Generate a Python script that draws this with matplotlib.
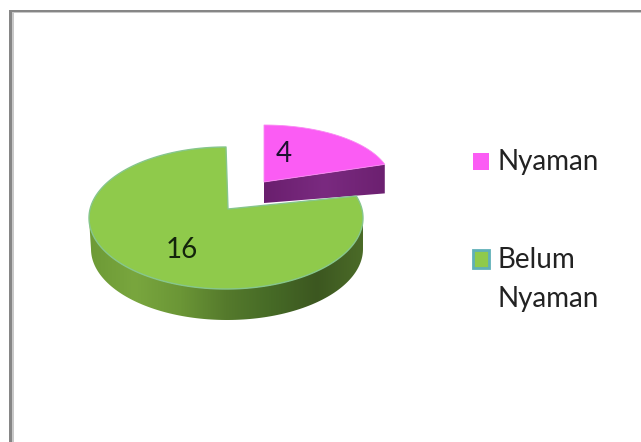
import numpy as np
import matplotlib
matplotlib.use("Agg")
import matplotlib.pyplot as plt
from matplotlib.colors import LinearSegmentedColormap
from matplotlib.patches import Polygon, Rectangle

categories = ["Nyaman", "Belum\nNyaman"]
values = [4, 16]

plt.rcParams['font.family'] = ['Lato', 'DejaVu Sans']
fig = plt.figure(figsize=(6.41, 4.42), dpi=100)
ax = fig.add_axes([0, 0, 1, 1])
ax.set_xlim(0, 641)
ax.set_ylim(442, 0)
ax.axis('off')

TOTAL = sum(values)
START = 18.0
sweep_pink = values[0] / TOTAL * 360
sweep_green = values[1] / TOTAL * 360
a_pink = np.radians(np.linspace(START, START + sweep_pink, 60))
a_green = np.radians(np.linspace(START + sweep_pink, START + sweep_pink + sweep_green, 240))

# geometry of the projected pie
gc, grx, gry = (226, 218), 137, 71
gapex = (228, 209)
gdepth = 31
pc, prx, pry = (264, 182), 127, 57
pd0, pd1 = 21, 29


def rim(angles, c, rx, ry):
    return np.column_stack([c[0] + rx * np.cos(angles), c[1] - ry * np.sin(angles)])


def gradient_fill(verts, stops, zorder):
    cmap = LinearSegmentedColormap.from_list("g", stops)
    xmin, xmax = verts[:, 0].min(), verts[:, 0].max()
    ymin, ymax = verts[:, 1].min(), verts[:, 1].max()
    im = ax.imshow(np.linspace(0, 1, 256)[None, :], cmap=cmap, aspect='auto',
                   extent=(xmin, xmax, ymax, ymin), zorder=zorder)
    clip = Polygon(verts, closed=True, transform=ax.transData, fill=False, edgecolor='none')
    ax.add_patch(clip)
    im.set_clip_path(clip)


# pink cut face
pink_rim = rim(a_pink, pc, prx, pry)
p_end = pink_rim[0]
pink_side = np.array([pc, p_end, p_end + [0, pd1], (pc[0], pc[1] + pd0)], dtype=float)
gradient_fill(pink_side, ["#6a1f6e", "#7a2a80", "#6c2070"], 2)

# pink top
pink_top = np.vstack([[pc], pink_rim])
ax.add_patch(Polygon(pink_top, closed=True, facecolor="#fb5cf4", edgecolor="#f98af2", lw=0.6, zorder=3))

# green outer wall (front half of the rim)
front = np.radians(np.linspace(180, 360, 120))
wall_top = rim(front, gc, grx, gry)
wall_bottom = rim(front[::-1], (gc[0] + 1, gc[1]), grx - 1, gry)
wall_bottom[:, 1] += gdepth
wall = np.vstack([wall_top, wall_bottom])
gradient_fill(wall, ["#6d9a36", "#79a63e", "#6b9636", "#557a2c", "#466a26", "#3c5720", "#4b6b28"], 4)

# green top
green_rim = rim(a_green, gc, grx, gry)
green_top = np.vstack([[gapex], green_rim])
ax.add_patch(Polygon(green_top, closed=True, facecolor="#8fca4b", edgecolor="#86c68c", lw=1.0,
                     joinstyle='round', zorder=5))

# data labels
ax.text(284, 154, str(values[0]), fontsize=20, color="#1d1030", ha='center', va='center', zorder=6)
ax.text(182, 250, str(values[1]), fontsize=20, color="#14240c", ha='center', va='center', zorder=6)

# legend
ax.add_patch(Rectangle((473, 153), 16, 17, facecolor="#fb5cf4", edgecolor="none", zorder=6))
ax.add_patch(Rectangle((473, 250), 16, 18, facecolor="#8fca4b", edgecolor="#5fb0b8", lw=2, zorder=6))
ax.text(498, 162, categories[0], fontsize=20, color="#222222", va='center', ha='left')
belum, nyaman = categories[1].split("\n")
ax.text(498, 260, belum, fontsize=20, color="#222222", va='center', ha='left')
ax.text(498, 299, nyaman, fontsize=20, color="#222222", va='center', ha='left')

# outer frame: top and left only, with a soft inner shade
ax.add_patch(Rectangle((9, 10), 632, 3, facecolor="#c8c8c8", edgecolor="none"))
ax.add_patch(Rectangle((9, 10), 5, 432, facecolor="#c8c8c8", edgecolor="none"))
ax.add_patch(Rectangle((9, 10), 632, 2, facecolor="#868686", edgecolor="none"))
ax.add_patch(Rectangle((9, 10), 3, 432, facecolor="#868686", edgecolor="none"))

fig.savefig("out.png", dpi=100)
